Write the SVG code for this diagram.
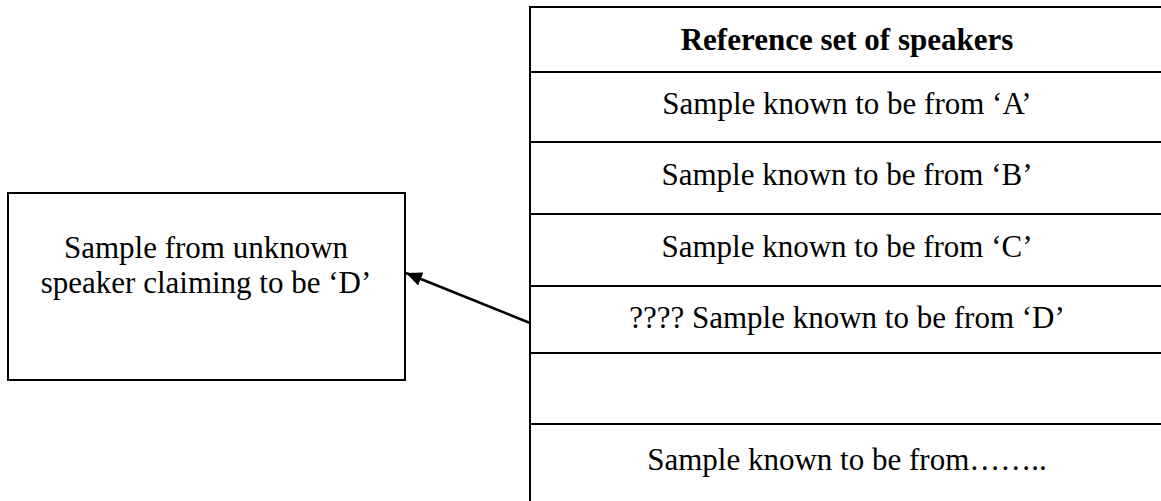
<svg xmlns="http://www.w3.org/2000/svg" width="1161" height="501" viewBox="0 0 1161 501">
<defs>
<style>
.t{font-family:"Liberation Serif","Times New Roman",serif;font-size:31px;fill:#000;text-anchor:middle}
.b{font-weight:bold}
.ln{stroke:#000;stroke-width:2;fill:none}
</style>
<marker id="ah" markerWidth="16" markerHeight="14" refX="16" refY="7" orient="auto" markerUnits="userSpaceOnUse" viewBox="0 0 16 14">
<path d="M0,0 L16,7 L0,14 z" fill="#000"/>
</marker>
</defs>
<rect width="1161" height="501" fill="#fff"/>
<g id="unknown">
<rect x="8" y="193" width="397" height="187" class="ln"/>
<text class="t" x="206" y="258">Sample from unknown</text>
<text class="t" x="206" y="293">speaker claiming to be ‘D’</text>
</g>
<g id="reference">
<path class="ln" d="M530,501 V7 H1170 M530,72 H1170 M530,142 H1170 M530,214 H1170 M530,286 H1170 M530,353 H1170 M530,424 H1170"/>
<text class="t b" x="847" y="50">Reference set of speakers</text>
<text class="t" x="847" y="114">Sample known to be from ‘A’</text>
<text class="t" x="847" y="185">Sample known to be from ‘B’</text>
<text class="t" x="847" y="257">Sample known to be from ‘C’</text>
<text class="t" x="847" y="328">???? Sample known to be from ‘D’</text>
<text class="t" x="847" y="470">Sample known to be from……..</text>
</g>
<g id="connectors">
<line x1="530" y1="323" x2="406" y2="273" stroke="#000" stroke-width="2.5" marker-end="url(#ah)"/>
</g>
</svg>
